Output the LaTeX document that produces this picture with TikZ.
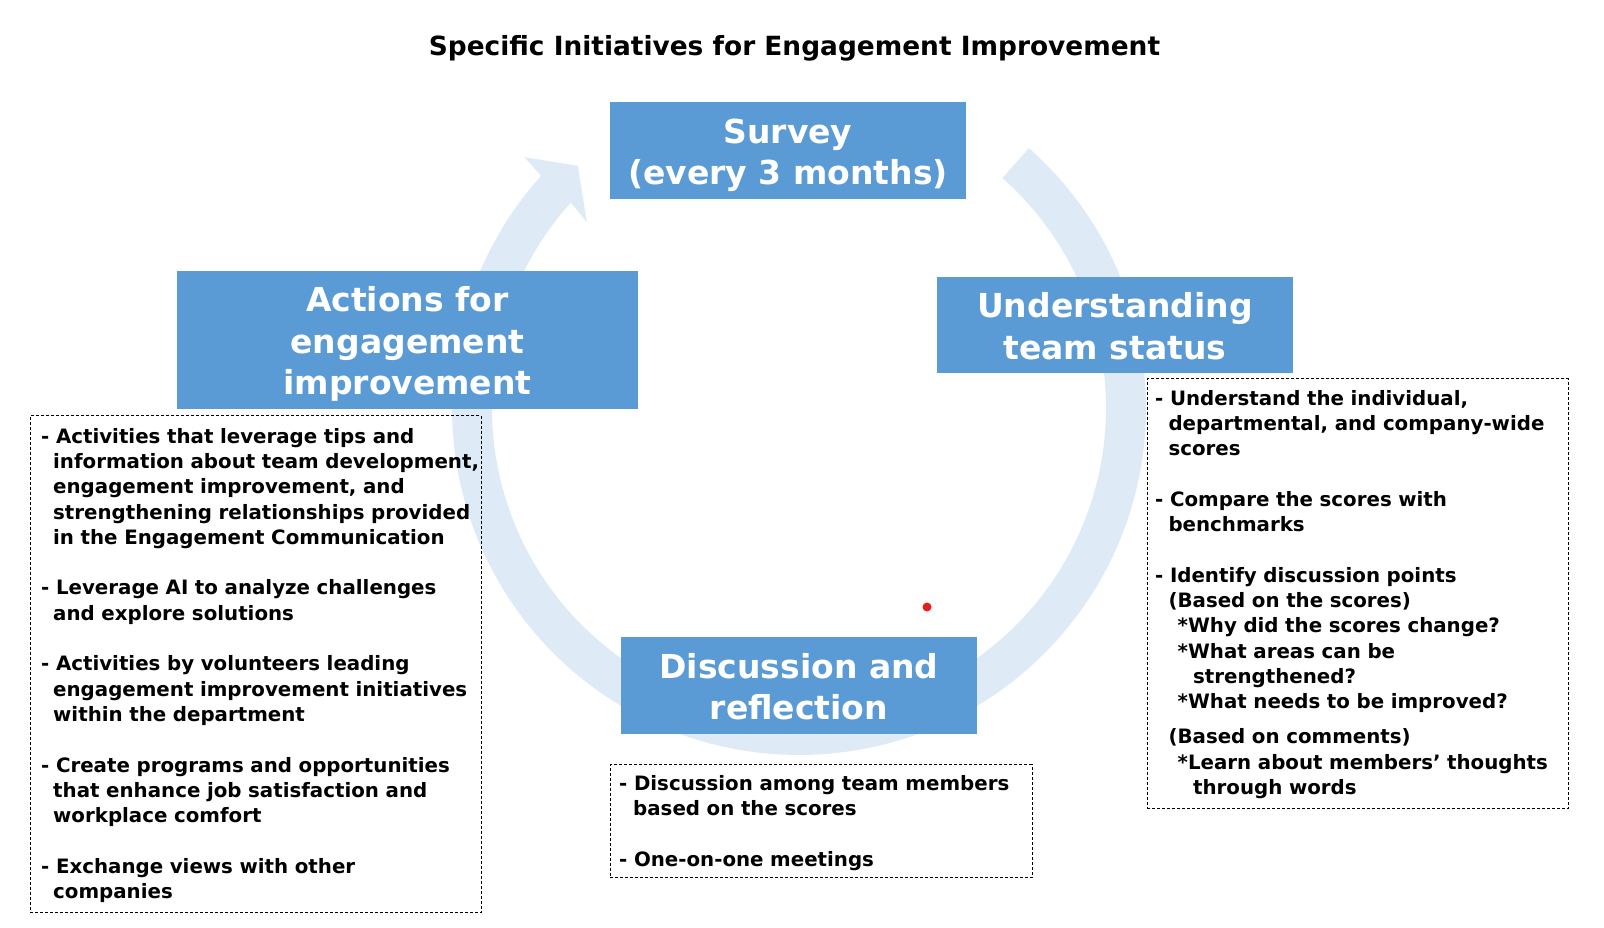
\documentclass[tikz,border=0pt]{standalone}
\usepackage{fontspec}
\setmainfont{DejaVu Sans}
\usepackage{graphicx}
\definecolor{boxblue}{HTML}{5B9BD5}
\definecolor{ringblue}{HTML}{DEEBF7}
\definecolor{dotred}{HTML}{E41E1E}
\begin{document}
\begin{tikzpicture}[x=1pt,y=1pt,
  stagebox/.style={fill=boxblue, inner sep=0pt},
  stagelabel/.style={text=white, align=center, inner sep=0pt,
    font=\fontsize{33}{41.5}\selectfont\bfseries},
  notebox/.style={draw=black, line width=0.9pt, dash pattern=on 3pt off 2pt,
    inner sep=0pt, anchor=south west},
  notetext/.style={anchor=north west, inner sep=0pt, align=left, text=black,
    font=\fontsize{19.8}{25.3}\selectfont\bfseries}]
\useasboundingbox (0,0) rectangle (1604,928);

% title
\node[font=\fontsize{26.4}{30}\selectfont\bfseries] (title) at (794.5,880)
  {Specific Initiatives for Engagement Improvement};

% cycle ring with arrow head
\fill[ringblue] ([shift={(799,520)}]48.5:347)
  arc[start angle=48.5, end angle=-222, radius=347]
  -- ([shift={(799,520)}]137.6:372)
  -- ([shift={(799,520)}]132.4:328)
  -- ([shift={(799,520)}]138.8:282)
  -- ([shift={(799,520)}]138:307)
  arc[start angle=-222, end angle=48.5, radius=307] -- cycle;

% stage boxes
\node[stagebox, minimum width=356pt, minimum height=97pt] (survey) at (788,777.5) {};
\node[stagebox, minimum width=356pt, minimum height=96pt] (understand) at (1115,603) {};
\node[stagebox, minimum width=461pt, minimum height=138pt] (actions) at (407.5,588) {};
\node[stagebox, minimum width=356pt, minimum height=97pt] (discuss) at (799,242.5) {};

\node[stagelabel] (surveylabel) at ([yshift=-5pt]survey.center) {Survey\\(every 3 months)};
\node[stagelabel] (understandlabel) at ([yshift=-1pt]understand.center) {Understanding\\team status};
\node[stagelabel] (actionslabel) at ([yshift=-4pt]actions.center) {Actions for\\engagement\\improvement};
\node[stagelabel] (discusslabel) at ([yshift=-1pt]discuss.center) {Discussion and\\reflection};

% dashed note boxes
\node[notebox, minimum width=451pt, minimum height=497pt] (leftbox) at (30,15) {};
\node[notebox, minimum width=421pt, minimum height=430pt] (rightbox) at (1147,119) {};
\node[notebox, minimum width=422pt, minimum height=113pt] (bottombox) at (610,50) {};

% note texts
\node[notetext, text width=440pt] (lefttext) at (41,502.7) {\noindent\strut
- Activities that leverage tips and\\
\hspace*{12pt}information about team development,\\
\hspace*{12pt}engagement improvement, and\\
\hspace*{12pt}strengthening relationships provided\\
\hspace*{12pt}in the Engagement Communication\\[25.3pt]
- Leverage AI to analyze challenges\\
\hspace*{12pt}and explore solutions\\[25.3pt]
- Activities by volunteers leading\\
\hspace*{12pt}engagement improvement initiatives\\
\hspace*{12pt}within the department\\[25.3pt]
- Create programs and opportunities\\
\hspace*{12pt}that enhance job satisfaction and\\
\hspace*{12pt}workplace comfort\\[25.3pt]
- Exchange views with other\\
\hspace*{12pt}companies};

\node[notetext, text width=405pt] (righttext) at (1155,540.7) {\noindent\strut
- Understand the individual,\\
\hspace*{13.3pt}departmental, and company-wide\\
\hspace*{13.3pt}scores\\[25.3pt]
- Compare the scores with\\
\hspace*{13.3pt}benchmarks\\[25.3pt]
- Identify discussion points\\
\hspace*{13.3pt}(Based on the scores)\\
\hspace*{22.5pt}*Why did the scores change?\\
\hspace*{22.5pt}*What areas can be\\
\hspace*{37.9pt}strengthened?\\
\hspace*{22.5pt}*What needs to be improved?\\[9.7pt]
\hspace*{13.3pt}(Based on comments)\\
\hspace*{22.5pt}*Learn about members’ thoughts\\
\hspace*{37.9pt}through words};

\node[notetext, text width=405pt] (bottomtext) at (619,155.7) {\noindent\strut
- Discussion among team members\\
\hspace*{14pt}based on the scores\\[25.3pt]
- One-on-one meetings};

% red dot
\fill[dotred] (927,321) circle[radius=4.5];
\end{tikzpicture}
\end{document}
